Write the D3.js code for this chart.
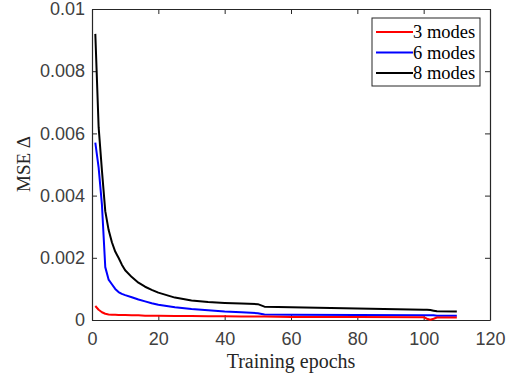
<!DOCTYPE html>
<html lang="en">
<head>
<meta charset="utf-8">
<title>MSE vs training epochs</title>
<script src="https://d3js.org/d3.v7.min.js"></script>
<style>
  body { margin: 0; background: #fff; }
  .tick text { font-family: "Liberation Sans", Arial, sans-serif; font-size: 18px; fill: #404040; }
</style>
</head>
<body>
<script>
// data
var epochs = [1,2,3,4,5,6,7,8,9,10,12,14,16,18,20,25,30,35,40,45,50,52,60,80,100,101,102,103,104,110];
var mode3 = [0.00045,0.00033,0.00025,0.00020,0.00018,0.00017,0.00017,0.00016,0.00016,0.00016,0.00015,0.00015,0.00014,0.00014,0.00014,0.00013,0.00013,0.00012,0.00012,0.00011,0.00011,0.00011,0.00010,0.00010,0.00009,0.00004,0.00001,0.00004,0.00008,0.00008];
var mode6 = [0.0057,0.0049,0.0037,0.0017,0.0013,0.00115,0.00100,0.00090,0.00084,0.00080,0.00073,0.00066,0.00060,0.00054,0.00049,0.00041,0.00035,0.00031,0.00027,0.00025,0.00022,0.00018,0.00017,0.00016,0.00015,0.00015,0.00015,0.00015,0.00014,0.00014];
var mode8 = [0.0092,0.0062,0.0048,0.0035,0.0029,0.0025,0.0022,0.0020,0.00178,0.0016,0.00138,0.0012,0.00107,0.00097,0.00088,0.00072,0.00063,0.00058,0.00055,0.00053,0.00051,0.00043,0.00041,0.00037,0.00033,0.00033,0.00032,0.00030,0.00028,0.00027];
var seriesNames = ["3 modes", "6 modes", "8 modes"];
var seriesColors = ["#ff0000", "#0000ff", "#000000"];
var xTicks = [0, 20, 40, 60, 80, 100, 120];
var yTicks = [0, 0.002, 0.004, 0.006, 0.008, 0.01];

var W = 519, H = 381;
var margin = {left: 92, right: 29, top: 9, bottom: 61};
var w = W - margin.left - margin.right;
var h = H - margin.top - margin.bottom;

var svg = d3.select("body").append("svg")
    .attr("width", W)
    .attr("height", H);

var g = svg.append("g")
    .attr("transform", "translate(" + margin.left + "," + margin.top + ")");

var x = d3.scaleLinear().domain([0, 120]).range([0, w]);
var y = d3.scaleLinear().domain([0, 0.01]).range([h, 0]);

var axisColor = "#262626";

// axes with inward ticks, box style
var fmt = function(d) { return d === 0 ? "0" : d3.format("")(+d.toFixed(3)); };

var xAx = g.append("g").attr("transform", "translate(0," + h + ")")
    .call(d3.axisBottom(x).tickValues(xTicks).tickSizeInner(-5).tickSizeOuter(0).tickPadding(12));
var yAx = g.append("g")
    .call(d3.axisLeft(y).tickValues(yTicks).tickSizeInner(-5).tickSizeOuter(0).tickPadding(7).tickFormat(fmt));
var xTop = g.append("g")
    .call(d3.axisTop(x).tickValues(xTicks).tickSizeInner(-5).tickSizeOuter(0).tickFormat(""));
var yRight = g.append("g").attr("transform", "translate(" + w + ",0)")
    .call(d3.axisRight(y).tickValues(yTicks).tickSizeInner(-5).tickSizeOuter(0).tickFormat(""));

[xAx, yAx, xTop, yRight].forEach(function(a) {
    a.selectAll("path").attr("stroke", axisColor).attr("stroke-width", 1.2);
    a.selectAll("line").attr("stroke", axisColor).attr("stroke-width", 1);
});
xAx.selectAll("text").attr("dy", "0.71em");

// lines
var allSeries = [mode3, mode6, mode8];
var line = d3.line()
    .x(function(d, i) { return x(epochs[i]); })
    .y(function(d) { return y(d); });

// draw black first so red stays on top
[2, 1, 0].forEach(function(k) {
    g.append("path")
        .datum(allSeries[k])
        .attr("fill", "none")
        .attr("stroke", seriesColors[k])
        .attr("stroke-width", 2)
        .attr("stroke-linejoin", "round")
        .attr("d", line);
});

// axis labels
svg.append("text")
    .attr("x", margin.left + w / 2)
    .attr("y", 368)
    .attr("text-anchor", "middle")
    .attr("font-family", "'Liberation Serif', 'Times New Roman', serif")
    .attr("font-size", 20)
    .attr("fill", "#262626")
    .text("Training epochs");

svg.append("text")
    .attr("transform", "translate(30,164) rotate(-90)")
    .attr("text-anchor", "middle")
    .attr("font-family", "'Liberation Serif', 'Times New Roman', serif")
    .attr("font-size", 19)
    .attr("fill", "#262626")
    .text("MSE \u0394");

// legend
var lg = svg.append("g").attr("transform", "translate(372,18)");
lg.append("rect")
    .attr("width", 108).attr("height", 68)
    .attr("fill", "#fff")
    .attr("stroke", axisColor)
    .attr("stroke-width", 1);
seriesNames.forEach(function(name, i) {
    var yy = 14 + i * 20.5;
    lg.append("line")
        .attr("x1", 4).attr("x2", 41)
        .attr("y1", yy).attr("y2", yy)
        .attr("stroke", seriesColors[i])
        .attr("stroke-width", 2);
    lg.append("text")
        .attr("x", 41).attr("y", yy)
        .attr("dy", "0.35em")
        .attr("font-family", "'Liberation Serif', 'Times New Roman', serif")
        .attr("font-size", 18.5)
        .attr("fill", "#000")
        .text(name);
});
</script>
</body>
</html>
